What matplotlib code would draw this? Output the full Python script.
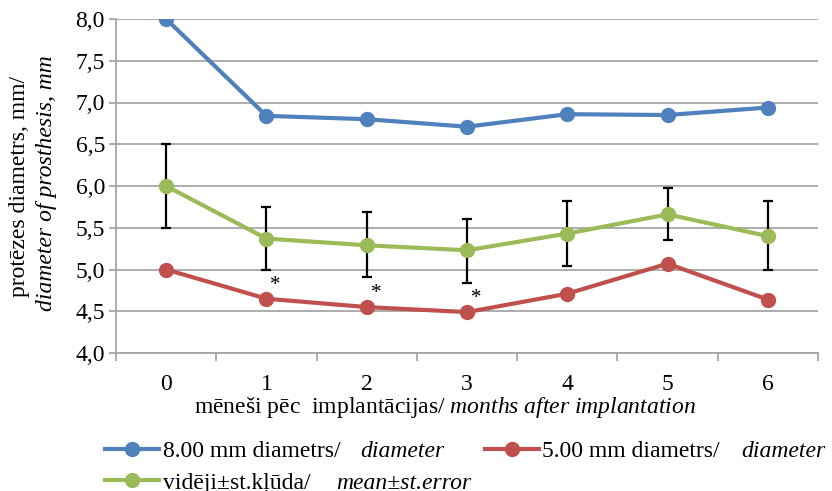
import numpy as np
import matplotlib.pyplot as plt
from matplotlib.ticker import FixedLocator, NullFormatter

plt.rcParams['font.family'] = 'serif'
plt.rcParams['font.serif'] = ['Liberation Serif', 'DejaVu Serif']
plt.rcParams['mathtext.fontset'] = 'custom'
plt.rcParams['mathtext.rm'] = 'Liberation Serif'
plt.rcParams['mathtext.it'] = 'Liberation Serif:italic'

months = [0, 1, 2, 3, 4, 5, 6]
d8 = [8.0, 6.84, 6.80, 6.71, 6.86, 6.85, 6.94]
d5 = [5.0, 4.65, 4.55, 4.49, 4.71, 5.07, 4.64]
mean = [6.0, 5.37, 5.29, 5.23, 5.43, 5.66, 5.40]
err_hi = [6.5, 5.75, 5.69, 5.61, 5.82, 5.98, 5.82]
err_lo = [5.5, 5.0, 4.91, 4.84, 5.04, 5.35, 4.99]
signif = [1, 2, 3]

labels_lv = ['8.00 mm diametrs/', 'vidēji±st.kļūda/', '5.00 mm diametrs/']
labels_en = ['diameter', 'mean±st.error', 'diameter']
gaps_px = [20, 26, 21]

blue = '#4F81BD'
red = '#C0504D'
green = '#9BBB59'
grid_c = '#A6A6A6'
fs = 17

fig = plt.figure(figsize=(8.32, 4.91), dpi=100)
ax = fig.add_axes([116 / 832, 1 - 353 / 491, (818 - 116) / 832, (353 - 19) / 491])

x = np.array(months)
mean = np.array(mean)
yerr = [mean - np.array(err_lo), np.array(err_hi) - mean]

l8, = ax.plot(x, d8, '-o', color=blue, lw=3, ms=10, zorder=4)
l5, = ax.plot(x, d5, '-o', color=red, lw=3, ms=10, zorder=4)
ax.errorbar(x, mean, yerr=yerr, fmt='none', ecolor='black', elinewidth=1.6,
            capsize=3.5, capthick=1.6, zorder=3)
lm, = ax.plot(x, mean, '-o', color=green, lw=3, ms=10, zorder=5)

for i in signif:
    ax.text(x[i] + 0.09, d5[i] + 0.05, '*', ha='center', va='bottom', fontsize=15)

ax.set_xlim(-0.5, 6.5)
ax.set_ylim(4.0, 8.0)
ax.set_yticks(np.arange(4.0, 8.01, 0.5))
ax.set_yticklabels([f'{v:.1f}'.replace('.', ',') for v in np.arange(4.0, 8.01, 0.5)], fontsize=fs)
ax.yaxis.grid(True, color=grid_c, lw=1.3)
ax.set_axisbelow(True)

ax.xaxis.set_major_locator(FixedLocator(np.arange(-0.5, 6.6, 1)))
ax.xaxis.set_major_formatter(NullFormatter())
ax.xaxis.set_minor_locator(FixedLocator(x))
ax.set_xticklabels([str(m) for m in months], minor=True, fontsize=fs)
ax.tick_params(axis='x', which='major', length=6, color=grid_c, width=1.3)
ax.tick_params(axis='x', which='minor', length=0, pad=15)
ax.tick_params(axis='y', length=5, color=grid_c, width=1.3, pad=3)

for s in ['top', 'right']:
    ax.spines[s].set_visible(False)
for s in ['left', 'bottom']:
    ax.spines[s].set_color(grid_c)
    ax.spines[s].set_linewidth(1.3)

ax.set_xlabel(r'mēneši pēc  implantācijas/ $\it{months\ after\ implantation}$',
              fontsize=fs)
ax.xaxis.set_label_coords((445 - 116) / 702, -42 / 334)
fig.text(20 / 832, 1 - 186 / 491, 'protēzes diametrs, mm/', rotation=90,
         ha='center', va='center', fontsize=fs)
fig.text(47 / 832, 1 - 183 / 491, 'diameter of prosthesis, mm', rotation=90,
         ha='center', va='center', fontsize=fs, style='italic',
         family='Liberation Serif')

leg = fig.legend([l8, lm, l5], labels_lv,
                 ncol=2, loc='lower left', bbox_to_anchor=(0.115, -0.025),
                 frameon=False, fontsize=fs, handlelength=2.3, handletextpad=0.15,
                 columnspacing=6.1, labelspacing=0.42, borderaxespad=0)

# italic English part after each Latvian legend label
fig.canvas.draw()
inv = fig.transFigure.inverted()
for t, en, g in zip(leg.get_texts(), labels_en, gaps_px):
    bb = t.get_window_extent()
    x0, y0 = inv.transform((bb.x1 + g, bb.y0))
    fig.text(x0, y0, en, ha='left', va='bottom', fontsize=fs, style='italic',
             family='Liberation Serif')

fig.savefig('out.png', dpi=100)
